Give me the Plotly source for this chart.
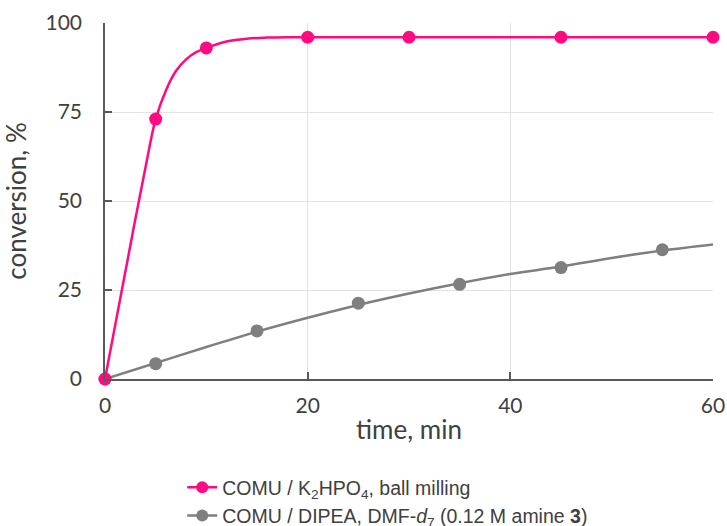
import plotly.graph_objects as go

# measured points
t_mill = [0, 5, 10, 20, 30, 45, 60]
conv_mill = [0, 73, 93, 96, 96, 96, 96]
t_sol = [0, 5, 15, 25, 35, 45, 55]
conv_sol = [0, 4.3, 13.5, 21.3, 26.6, 31.3, 36.3]

# fitted curves
t_fit_mill = [0, 1, 2, 3, 4, 5, 6, 7, 8, 9, 10, 12, 14, 16, 18, 20, 30, 40, 50, 60]
fit_mill = [0, 15, 30, 45, 59.5, 73, 81, 86.5, 89.8, 91.8, 93, 94.8, 95.6, 95.9, 96, 96, 96, 96, 96, 96]
t_fit_sol = [0, 5, 10, 15, 20, 25, 30, 35, 40, 45, 50, 55, 60]
fit_sol = [0, 4.5, 9.0, 13.3, 17.2, 20.8, 24.0, 26.9, 29.5, 31.6, 34.0, 36.1, 37.8]

name_mill = "COMU / K<sub>2</sub>HPO<sub>4</sub>, ball milling"
name_sol = "COMU / DIPEA, DMF-<i>d</i><sub>7</sub> (0.12 M amine <b>3</b>)"

MAG = "#FF0A80"
GRY = "#7F7F7F"

fig = go.Figure()
fig.add_trace(go.Scatter(x=t_fit_sol, y=fit_sol, mode="lines", line=dict(color=GRY, width=2.5, shape="spline"),
                         showlegend=False, cliponaxis=False, hoverinfo="skip"))
fig.add_trace(go.Scatter(x=t_sol, y=conv_sol, mode="markers", marker=dict(color=GRY, size=13),
                         showlegend=False, cliponaxis=False))
fig.add_trace(go.Scatter(x=t_fit_mill, y=fit_mill, mode="lines", line=dict(color=MAG, width=2.5, shape="spline"),
                         showlegend=False, cliponaxis=False, hoverinfo="skip"))
fig.add_trace(go.Scatter(x=t_mill, y=conv_mill, mode="markers", marker=dict(color=MAG, size=13),
                         showlegend=False, cliponaxis=False))
# legend entries
fig.add_trace(go.Scatter(x=[None], y=[None], mode="lines+markers", name=name_mill,
                         line=dict(color=MAG, width=2.5), marker=dict(color=MAG, size=12)))
fig.add_trace(go.Scatter(x=[None], y=[None], mode="lines+markers", name=name_sol,
                         line=dict(color=GRY, width=2.5), marker=dict(color=GRY, size=12)))

tick_font = dict(family="Lato, Open Sans, sans-serif", size=21, color="#404040")
title_font = dict(family="Lato, Open Sans, sans-serif", size=26, color="#404040")

fig.update_layout(
    width=727, height=526,
    margin=dict(l=105, r=14, t=23, b=147, autoexpand=False),
    paper_bgcolor="white", plot_bgcolor="white",
    showlegend=True,
    legend=dict(x=0.127, y=-0.25, xanchor="left", yanchor="top", orientation="v",
                font=dict(family="Liberation Sans, Arial, sans-serif", size=19.5, color="#404040"),
                bgcolor="rgba(0,0,0,0)", tracegroupgap=0),
    xaxis=dict(range=[0, 60], tickvals=[0, 20, 40, 60], showgrid=True, gridcolor="#E3E3E3", gridwidth=1,
               zeroline=False, showline=True, linecolor="#595959", linewidth=1.5,
               ticks="inside", ticklen=7, tickcolor="#595959", tickwidth=1.5,
               tickfont=tick_font, ticklabelstandoff=7, automargin=False,
               title=dict(text="time, min", font=title_font, standoff=5)),
    yaxis=dict(range=[0, 100], tickvals=[0, 25, 50, 75, 100], showgrid=True, gridcolor="#E3E3E3", gridwidth=1,
               zeroline=False, showline=True, linecolor="#595959", linewidth=1.5,
               ticks="inside", ticklen=7, tickcolor="#595959", tickwidth=1.5,
               tickfont=tick_font, ticklabelstandoff=17, automargin=False,
               title=dict(text="conversion, %", font=title_font, standoff=11)),
)

# remove the default 8px page margin so the figure fills the window exactly
fig.write_html("out.html", config={"displayModeBar": False},
               post_script="document.body.style.margin='0';document.body.style.overflow='hidden';")
